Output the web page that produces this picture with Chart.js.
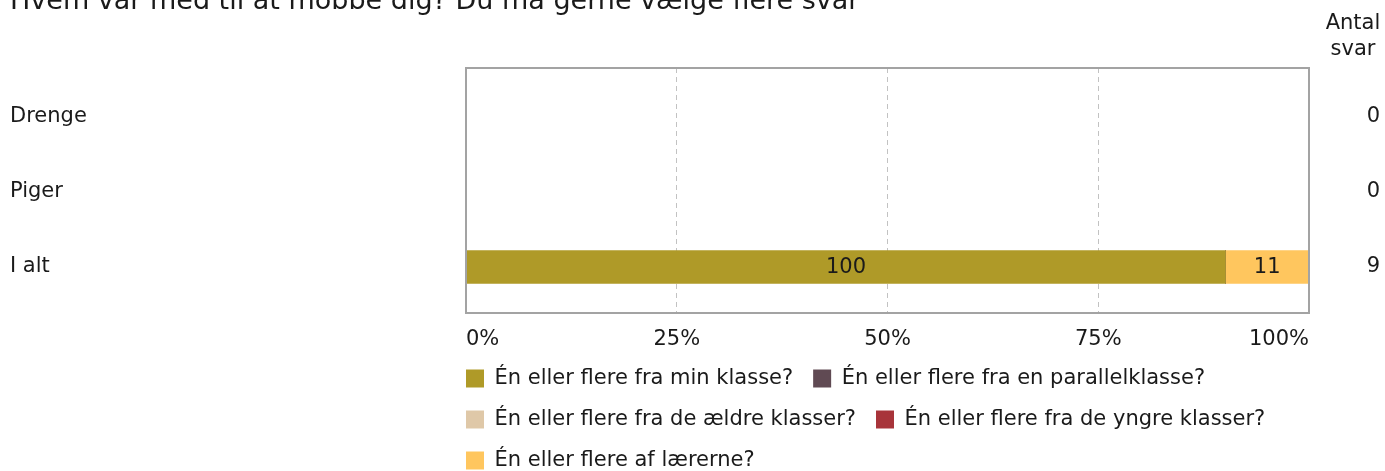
<!DOCTYPE html>
<html>
<head>
<meta charset="utf-8">
<script src="https://cdn.jsdelivr.net/npm/chart.js@4"></script>
<style>
  html, body { margin: 0; padding: 0; background: #fff; overflow: hidden; }
  #wrap { position: absolute; left: 0; top: -20px; }
</style>
</head>
<body>
<div id="wrap"><canvas id="chart" width="1385" height="500"></canvas></div>
<script>
const title = 'Hvem var med til at mobbe dig? Du må gerne vælge flere svar';
const categories = ['Drenge', 'Piger', 'I alt'];
const answerCounts = [0, 0, 9];
const answerHeader = ['Antal', 'svar'];
const seriesNames = [
    'Én eller flere fra min klasse?',
    'Én eller flere fra en parallelklasse?',
    'Én eller flere fra de ældre klasser?',
    'Én eller flere fra de yngre klasser?',
    'Én eller flere af lærerne?'
];
const minKlasse = [0, 0, 100];
const parallelklasse = [0, 0, 0];
const aeldreKlasser = [0, 0, 0];
const yngreKlasser = [0, 0, 0];
const laererne = [0, 0, 11];
const xTickLabels = ['0%', '25%', '50%', '75%', '100%'];

const seriesValues = [minKlasse, parallelklasse, aeldreKlasser, yngreKlasser, laererne];
const seriesColors = ['#af9a28', '#604a53', '#dfc8a8', '#a8343a', '#ffc65e'];

const FONT = 'DejaVu Sans';
const TEXT = '#1a1a1a';
const LEGEND_PAD = 20;

// each row is drawn as share of its own total, labels show the raw numbers
const rowTotals = categories.map((c, i) => seriesValues.reduce((s, arr) => s + arr[i], 0));
const share = (v, i) => rowTotals[i] ? v / rowTotals[i] * 100 : 0;

const rowTicks = (scale) => {
    scale.ticks = categories.map((c, i) => ({ value: i }));
};

const frame = {
    id: 'frame',
    afterDatasetsDraw(chart) {
        const { ctx, chartArea: a } = chart;
        ctx.save();
        ctx.strokeStyle = '#a3a3a3';
        ctx.lineWidth = 2;
        ctx.strokeRect(a.left, a.top, a.right - a.left, a.bottom - a.top);
        ctx.restore();
    }
};

const barLabels = {
    id: 'barLabels',
    afterDatasetsDraw(chart) {
        const { ctx } = chart;
        ctx.save();
        ctx.font = `21px "${FONT}"`;
        ctx.fillStyle = TEXT;
        ctx.textAlign = 'center';
        ctx.textBaseline = 'middle';
        chart.data.datasets.forEach((ds, di) => {
            chart.getDatasetMeta(di).data.forEach((bar, i) => {
                const v = ds.data[i].v;
                if (!v) return;
                const p = bar.getCenterPoint();
                ctx.fillText(String(v), p.x, p.y + 1);
            });
        });
        ctx.restore();
    }
};

const header = {
    id: 'header',
    afterDraw(chart) {
        const { ctx, chartArea } = chart;
        const y2 = chart.scales.y2;
        ctx.save();
        ctx.font = `21px "${FONT}"`;
        ctx.fillStyle = TEXT;
        ctx.textAlign = 'center';
        ctx.textBaseline = 'alphabetic';
        ctx.fillText(answerHeader[0], y2.right - 27, chartArea.top - 39);
        ctx.fillText(answerHeader[1], y2.right - 27, chartArea.top - 13);
        ctx.restore();
    }
};

// legend sits under the plot, first box flush with the plot's left edge
const legendShift = {
    id: 'legendShift',
    afterLayout(chart) {
        const lg = chart.legend;
        lg.left = chart.chartArea.left - LEGEND_PAD;
        lg.right = lg.left + lg.width;
        lg.top += 1;
        lg.bottom += 1;
    }
};

new Chart(document.getElementById('chart'), {
    type: 'bar',
    data: {
        datasets: seriesNames.map((name, si) => ({
            label: name,
            data: seriesValues[si].map((v, i) => ({ x: share(v, i), y: i, v })),
            backgroundColor: seriesColors[si],
            borderWidth: 0,
            barThickness: 33
        }))
    },
    options: {
        indexAxis: 'y',
        responsive: false,
        animation: false,
        layout: { padding: { left: 10, right: 5, top: 0, bottom: 0 } },
        plugins: {
            tooltip: { enabled: false },
            title: {
                display: true,
                text: title,
                align: 'start',
                color: TEXT,
                font: { family: FONT, size: 27, weight: 'normal' },
                padding: { top: 6, bottom: 49.6 }
            },
            legend: {
                position: 'bottom',
                align: 'start',
                fullSize: false,
                labels: {
                    color: TEXT,
                    font: { family: FONT, size: 21 },
                    boxWidth: 18,
                    boxHeight: 18,
                    padding: LEGEND_PAD
                }
            }
        },
        scales: {
            x: {
                type: 'linear',
                stacked: true,
                min: 0,
                max: 100,
                ticks: {
                    stepSize: 25,
                    align: 'inner',
                    padding: 14,
                    color: TEXT,
                    font: { family: FONT, size: 21 },
                    callback: (v, i) => xTickLabels[i]
                },
                grid: { color: '#c2c2c2', lineWidth: 1, drawTicks: false },
                border: { display: false, dash: [5, 4] },
                afterFit: (s) => { s.height = 34; }
            },
            y: {
                type: 'linear',
                position: 'left',
                stacked: true,
                reverse: true,
                offset: false,
                min: -0.653,
                max: 2.613,
                afterBuildTicks: rowTicks,
                ticks: {
                    crossAlign: 'far',
                    color: TEXT,
                    font: { family: FONT, size: 21 },
                    callback: (v) => categories[v]
                },
                grid: { display: false, offset: false },
                border: { display: false },
                afterFit: (s) => { s.width = 456; }
            },
            y2: {
                type: 'linear',
                position: 'right',
                reverse: true,
                offset: false,
                min: -0.653,
                max: 2.613,
                afterBuildTicks: rowTicks,
                ticks: {
                    crossAlign: 'far',
                    color: TEXT,
                    font: { family: FONT, size: 21 },
                    callback: (v) => String(answerCounts[v])
                },
                grid: { display: false, offset: false },
                border: { display: false },
                afterFit: (s) => { s.width = 71; }
            }
        }
    },
    plugins: [frame, barLabels, header, legendShift]
});
</script>
</body>
</html>
